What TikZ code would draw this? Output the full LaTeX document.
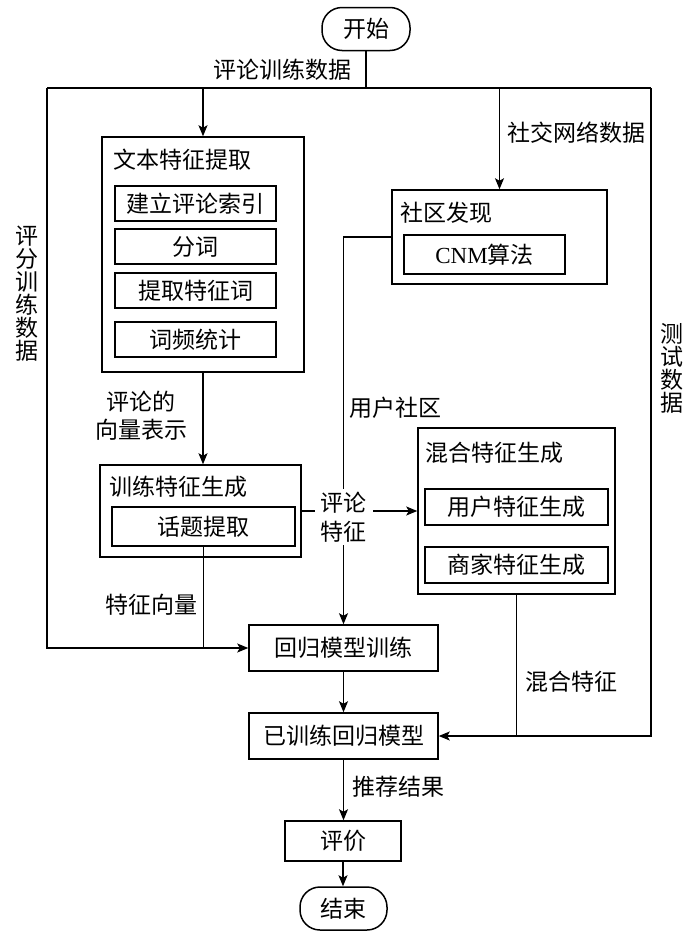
\documentclass[tikz,border=0pt]{standalone}
\usepackage{fontspec}
\setmainfont{Liberation Serif}
\newfontfamily\cjk{Noto Sans CJK SC}
\usetikzlibrary{arrows.meta}
\begin{document}
\begin{tikzpicture}[x=1pt,y=-1pt,
  every node/.style={font=\cjk\fontsize{23}{28}\selectfont},
  bx/.style={draw,line width=1.5pt,inner sep=0pt},
  term/.style={draw,line width=1.5pt,rounded corners=20pt,inner sep=0pt},
  lbl/.style={inner sep=0pt},
  vlbl/.style={inner sep=0pt,align=center,font=\cjk\fontsize{23}{23}\selectfont},
  ln/.style={line width=1.1pt},
  arr/.style={line width=1.1pt,-{Stealth[length=11pt,width=9pt,inset=2.5pt]}}
]
\useasboundingbox (0,0) rectangle (700,932);
\fill[white] (0,0) rectangle (700,932);

% nodes
\node[term,minimum width=88pt,minimum height=43pt] (start) at (366,29) {开始};

\node[bx,minimum width=202pt,minimum height=235pt] (tfe) at (203,254.5) {};
\node[lbl,anchor=west] (tfeT) at (113,160) {文本特征提取};
\node[bx,minimum width=161pt,minimum height=35pt] (s1) at (195.5,203.5) {建立评论索引};
\node[bx,minimum width=161pt,minimum height=35pt] (s2) at (195.5,246.5) {分词};
\node[bx,minimum width=161pt,minimum height=35pt] (s3) at (195.5,290.5) {提取特征词};
\node[bx,minimum width=161pt,minimum height=35pt] (s4) at (195.5,339.5) {词频统计};

\node[bx,minimum width=215pt,minimum height=94pt] (cd) at (499.5,237) {};
\node[lbl,anchor=west] (cdT) at (400,213) {社区发现};
\node[bx,minimum width=161pt,minimum height=39pt] (cnm) at (484.5,254.5) {{\rmfamily CNM}算法};

\node[bx,minimum width=201pt,minimum height=92pt] (tfg) at (200.5,511) {};
\node[lbl,anchor=west] (tfgT) at (109,487) {训练特征生成};
\node[bx,minimum width=183pt,minimum height=39pt] (topic) at (203.5,526.5) {话题提取};

\node[bx,minimum width=197pt,minimum height=166pt] (mix) at (516.5,511) {};
\node[lbl,anchor=west] (mixT) at (425,453) {混合特征生成};
\node[bx,minimum width=183pt,minimum height=36pt] (user) at (516.5,507) {用户特征生成};
\node[bx,minimum width=183pt,minimum height=36pt] (merch) at (516.5,565) {商家特征生成};

\node[bx,minimum width=189pt,minimum height=46pt] (rmt) at (343.5,648) {回归模型训练};
\node[bx,minimum width=189pt,minimum height=46pt] (trm) at (343.5,736) {已训练回归模型};
\node[bx,minimum width=116pt,minimum height=40pt] (eval) at (343,841) {评价};
\node[term,minimum width=87pt,minimum height=43pt] (end) at (343.5,908.5) {结束};

% bus
\coordinate (busL) at (47,88);
\coordinate (busR) at (651,88);

% connectors
\draw[ln] (start.south) -- (start.south |- busL);
\draw[ln] (busL) -- (busR);
\draw[arr] (tfe.north |- busL) -- (tfe.north);
\draw[arr] (cd.north |- busL) -- (cd.north);
\draw[arr] (busL) -- (busL |- rmt.west) -- (rmt.west);
\draw[arr] (busR) -- (busR |- trm.east) -- (trm.east);
\draw[arr] (tfe.south) -- (tfe.south |- tfg.north);
\draw[ln] (topic.south) -- (topic.south |- rmt.west);
\draw[arr] (cd.west) -- (cd.west -| rmt.north) -- (rmt.north);
\draw[arr] (tfg.east) -- (mix.west);
\draw[ln] (mix.south) -- (mix.south |- trm.east);
\draw[arr] (rmt.south) -- (trm.north);
\draw[arr] (trm.south) -- (trm.south |- eval.north);
\draw[arr] (eval.south) -- (eval.south |- end.north);

% labels
\node[lbl] (l1) at (282,70) {评论训练数据};
\node[lbl] (l2) at (576,133) {社交网络数据};
\node[vlbl] (l3) at (27,294) {评\\分\\训\\练\\数\\据};
\node[vlbl] (l4) at (672,368) {测\\试\\数\\据};
\node[lbl,align=center] (l5) at (141,416) {评论的\\向量表示};
\node[lbl,anchor=west] (l6) at (349,408) {用户社区};
\node[fill=white,inner xsep=6pt,inner ysep=3pt,align=center,font=\cjk\fontsize{23}{29}\selectfont] (l7) at (343.5,517) {评论\\特征};
\node[lbl] (l8) at (151,605) {特征向量};
\node[lbl] (l9) at (571,682) {混合特征};
\node[lbl] (l10) at (398,787) {推荐结果};
\end{tikzpicture}
\end{document}
